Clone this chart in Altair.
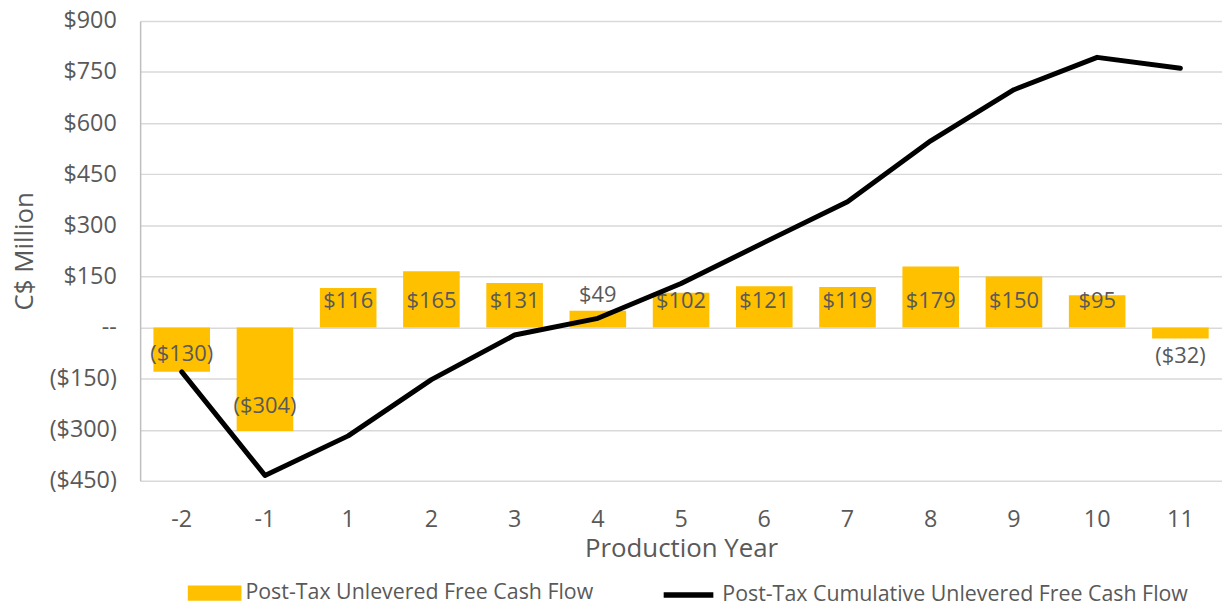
import altair as alt
import pandas as pd

years = ["-2", "-1", "1", "2", "3", "4", "5", "6", "7", "8", "9", "10", "11"]
fcf = [-130, -304, 116, 165, 131, 49, 102, 121, 119, 179, 150, 95, -32]
cumulative = [-130, -434, -318, -153, -22, 27, 129, 250, 369, 548, 698, 793, 761]
y_ticks = [-450, -300, -150, 0, 150, 300, 450, 600, 750, 900]

BAR_NAME = "Post-Tax Unlevered Free Cash Flow"
LINE_NAME = "Post-Tax Cumulative Unlevered Free Cash Flow"

df = pd.DataFrame({"year": years, "fcf": fcf, "cum": cumulative,
                   "bar_series": BAR_NAME, "line_series": LINE_NAME})

FONT = "Open Sans"
GREY = "#595959"
GOLD = "#FFC000"

x_enc = alt.X("year:O", sort=years,
              scale=alt.Scale(paddingInner=0.32, paddingOuter=0.16),
              axis=alt.Axis(title="Production Year", labelAngle=0, labelFontSize=23.5,
                            labelColor=GREY, titleFontSize=26, titleColor=GREY,
                            titleFontWeight="normal", ticks=False, domain=False,
                            labelPadding=27, titlePadding=5))

y_scale = alt.Scale(domain=[-450, 900], nice=False, zero=False)

bar_legend = alt.Legend(
    title=None, orient="none", legendX=48, legendY=549,
    labelFontSize=21.5, labelColor=GREY, labelFont=FONT, labelLimit=0,
    symbolType="M-1,-0.28H1V0.28H-1Z", symbolSize=2916,
    symbolStrokeWidth=0, symbolOpacity=1, labelOffset=4,
)
line_legend = alt.Legend(
    title=None, orient="none", legendX=524, legendY=550,
    labelFontSize=21.5, labelColor=GREY, labelFont=FONT, labelLimit=0,
    symbolType="stroke", symbolSize=2500, symbolStrokeWidth=5.5,
    symbolOpacity=1, labelOffset=6,
)

bars = alt.Chart(df).mark_bar().encode(
    x=x_enc,
    y=alt.Y("fcf:Q", scale=y_scale,
            axis=alt.Axis(title="C$ Million", values=y_ticks,
                          labelExpr="datum.value == 0 ? '--' : (datum.value < 0 ? '($' + abs(datum.value) + ')' : '$' + datum.value + '\u00a0')",
                          labelFontSize=23.5, labelColor=GREY, titleFontSize=26,
                          titleColor=GREY, titleFontWeight="normal", ticks=False,
                          domainColor="#BFBFBF", domainWidth=1.5,
                          gridColor="#D9D9D9", gridWidth=1.5,
                          labelPadding=24, titlePadding=12)),
    fill=alt.Fill("bar_series:N", scale=alt.Scale(domain=[BAR_NAME], range=[GOLD]),
                  legend=bar_legend),
)

labels = alt.Chart(df).transform_calculate(
    label="datum.fcf < 0 ? '($' + abs(datum.fcf) + ')' : '$' + datum.fcf",
    label_y="datum.fcf >= 90 ? 77 : (datum.fcf >= 0 ? datum.fcf + 45 : (datum.fcf < -100 ? 0.88 * datum.fcf + 36 : datum.fcf - 52))",
).mark_text(fontSize=22, color=GREY, font=FONT).encode(
    x=alt.X("year:O", sort=years),
    y=alt.Y("label_y:Q", scale=y_scale),
    text="label:N",
)

line = alt.Chart(df).mark_line(strokeWidth=5, strokeJoin="round", strokeCap="round").encode(
    x=alt.X("year:O", sort=years),
    y=alt.Y("cum:Q", scale=y_scale),
    stroke=alt.Stroke("line_series:N", scale=alt.Scale(domain=[LINE_NAME], range=["#000000"]),
                      legend=line_legend),
)

chart = alt.layer(bars, labels, line).resolve_scale(y="shared").properties(
    width=1089, height=463,
    autosize=alt.AutoSizeParams(type="none"),
    padding={"left": 133, "top": 11, "right": 0, "bottom": 124},
).configure(font=FONT).configure_view(stroke=None)

chart.save("out.html", embed_options={"renderer": "svg", "actions": False})
